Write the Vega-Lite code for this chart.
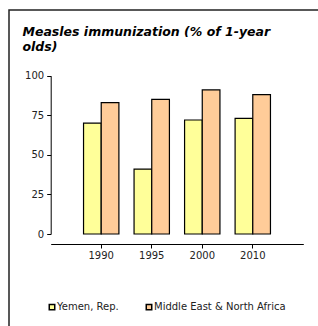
{
  "$schema": "https://vega.github.io/schema/vega-lite/v6.json",
  "autosize": {"type": "none"},
  "padding": {"left": 9, "top": 10, "right": -21, "bottom": -24},
  "width": 330,
  "height": 340,
  "background": "white",
  "config": {
    "view": {"stroke": "#222", "strokeWidth": 1.5},
    "font": "DejaVu Sans"
  },
  "title": {
    "text": ["Measles immunization (% of 1-year", "olds)"],
    "anchor": "start",
    "frame": "group",
    "offset": -43,
    "dx": 13.5,
    "font": "DejaVu Sans",
    "fontSize": 12.5,
    "fontWeight": "bold",
    "fontStyle": "italic",
    "color": "black",
    "lineHeight": 15
  },
  "data": {
    "values": [
      {"year": "1990", "series": "Yemen, Rep.", "value": 70},
      {"year": "1990", "series": "Middle East & North Africa", "value": 83},
      {"year": "1995", "series": "Yemen, Rep.", "value": 41},
      {"year": "1995", "series": "Middle East & North Africa", "value": 85},
      {"year": "2000", "series": "Yemen, Rep.", "value": 72},
      {"year": "2000", "series": "Middle East & North Africa", "value": 91},
      {"year": "2010", "series": "Yemen, Rep.", "value": 73},
      {"year": "2010", "series": "Middle East & North Africa", "value": 88}
    ]
  },
  "mark": {"type": "bar", "stroke": "black", "strokeWidth": 1.2},
  "encoding": {
    "x": {
      "field": "year",
      "type": "nominal",
      "scale": {"range": [41.7, 294.3], "paddingInner": 0.3, "paddingOuter": 0.65},
      "axis": {
        "title": null,
        "labelAngle": 0,
        "orient": "bottom",
        "offset": -106,
        "tickSize": 4,
        "domainColor": "black",
        "tickColor": "black",
        "labelFont": "DejaVu Sans",
        "labelFontSize": 10,
        "labelColor": "#222",
        "labelPadding": 2
      }
    },
    "y": {
      "field": "value",
      "type": "quantitative",
      "scale": {"domain": [0, 100], "range": [224, 65.7], "nice": false},
      "axis": {
        "title": null,
        "values": [0, 25, 50, 75, 100],
        "offset": -41.7,
        "grid": false,
        "tickSize": 4,
        "domainColor": "black",
        "tickColor": "black",
        "labelFont": "DejaVu Sans",
        "labelFontSize": 10,
        "labelColor": "#222",
        "labelPadding": 3
      }
    },
    "xOffset": {
      "field": "series",
      "type": "nominal",
      "sort": ["Yemen, Rep.", "Middle East & North Africa"]
    },
    "color": {
      "field": "series",
      "type": "nominal",
      "scale": {
        "domain": ["Yemen, Rep.", "Middle East & North Africa"],
        "range": ["#FFFF99", "#FFCC99"]
      },
      "legend": {
        "orient": "none",
        "legendX": 38,
        "legendY": 292,
        "direction": "horizontal",
        "title": null,
        "symbolType": "square",
        "symbolSize": 30,
        "symbolStrokeColor": "black",
        "symbolStrokeWidth": 1.5,
        "labelFont": "DejaVu Sans",
        "labelFontSize": 10,
        "labelColor": "#222",
        "labelOffset": 0,
        "columnPadding": 24
      }
    }
  }
}
